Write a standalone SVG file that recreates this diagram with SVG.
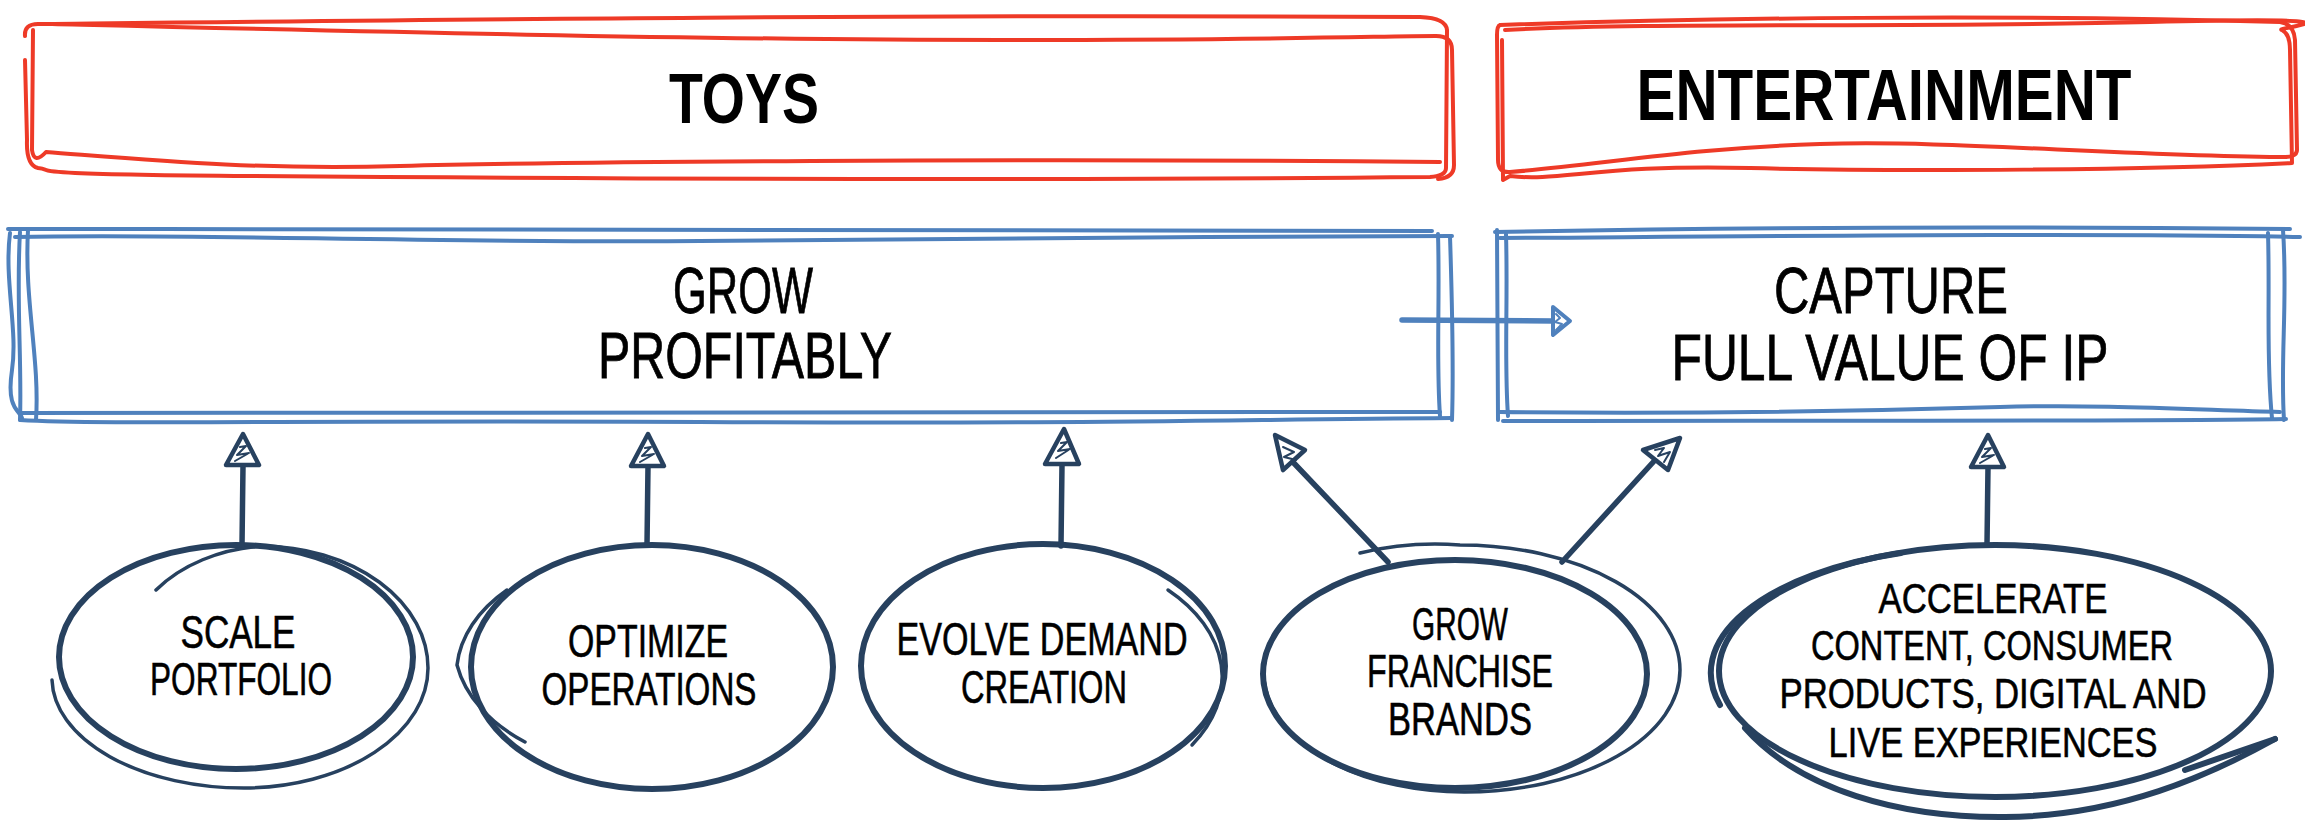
<svg xmlns="http://www.w3.org/2000/svg" width="2305" height="821" viewBox="0 0 2305 821">
  <style>
    .red { fill: none; stroke: #EE3A27; stroke-width: 4; stroke-linecap: round; stroke-linejoin: round; }
    .blue { fill: none; stroke: #4F81BD; stroke-width: 4; stroke-linecap: round; stroke-linejoin: round; }
    .ring { fill: none; stroke: #27415F; stroke-width: 6; stroke-linecap: round; }
    .ring-thin { fill: none; stroke: #27415F; stroke-width: 3.5; stroke-linecap: round; }
    .stem { fill: none; stroke: #27415F; stroke-width: 5.5; stroke-linecap: round; }
    .head { fill: #fff; stroke: #27415F; stroke-width: 4.5; stroke-linejoin: round; }
    .hatch { fill: none; stroke: #27415F; stroke-width: 2; stroke-linecap: round; stroke-linejoin: round; }
    .bstem { fill: none; stroke: #4F81BD; stroke-width: 5.5; stroke-linecap: round; }
    .bhead { fill: #fff; stroke: #4F81BD; stroke-width: 4; stroke-linejoin: round; }
    .bhatch { fill: none; stroke: #4F81BD; stroke-width: 2; stroke-linecap: round; stroke-linejoin: round; }
    .title { font-family: "Liberation Sans", Arial, sans-serif; font-weight: bold; fill: #000; text-anchor: middle; }
    .goal { font-family: "Liberation Sans", Arial, sans-serif; fill: #000; stroke: #000; stroke-width: 0.8; text-anchor: middle; font-size: 64px; }
    .lbl { font-family: "Liberation Sans", Arial, sans-serif; fill: #000; stroke: #000; stroke-width: 0.6; text-anchor: middle; font-size: 46px; }
    .lbl-sm { font-size: 42px; }
  </style>
  <rect width="2305" height="821" fill="#fff"/>

  <!-- Segment headers -->
  <g id="toys">
    <path class="red" d="M 25 36 Q 24 24 38 24 C 400 20, 900 14, 1420 17 Q 1446 18 1447 30 L 1446 168 Q 1446 176 1430 177 C 1000 181, 500 178, 250 176 S 60 170, 38 168 Q 26 165 27 140 L 25 60"/>
    <path class="red" d="M 52 24 C 300 30, 700 40, 1000 40 S 1380 36, 1436 36 Q 1452 36 1452 50 L 1454 165 Q 1454 178 1438 179"/>
    <path class="red" d="M 33 30 L 32 150 Q 34 165 46 152 C 150 160, 250 170, 400 166 S 1000 158, 1440 162"/>
    <text class="title" x="744" y="123" font-size="70" textLength="150" lengthAdjust="spacingAndGlyphs">TOYS</text>
  </g>
  <g id="entertainment">
    <path class="red" d="M 1500 25 C 1700 18, 2000 14, 2280 22 Q 2294 24 2295 40 L 2297 150 Q 2297 158 2280 157 C 2100 155, 1950 140, 1820 144 S 1600 165, 1510 172 Q 1498 173 1498 160 L 1497 35 Q 1497 26 1500 25"/>
    <path class="red" d="M 1505 30 C 1650 22, 1900 28, 2150 22 S 2270 28, 2282 30 Q 2290 34 2290 50 L 2292 163 C 2150 170, 1900 172, 1750 168 S 1560 182, 1510 176 L 1503 180 L 1502 40"/>
    <text class="title" x="1884" y="120" font-size="72" textLength="495" lengthAdjust="spacingAndGlyphs">ENTERTAINMENT</text>
  </g>

  <!-- Strategic goals -->
  <g id="grow-profitably">
    <path class="blue" d="M 8 229 C 500 229, 1000 230, 1432 231"/>
    <path class="blue" d="M 15 237 C 200 233, 400 243, 700 241 S 1200 236, 1452 236"/>
    <path class="blue" d="M 10 233 C 4 280, 18 330, 12 370 S 20 410, 22 418"/>
    <path class="blue" d="M 20 232 C 16 300, 22 360, 20 420"/>
    <path class="blue" d="M 28 230 C 24 300, 40 360, 36 420"/>
    <path class="blue" d="M 1438 234 C 1440 300, 1436 360, 1440 416"/>
    <path class="blue" d="M 1450 236 C 1452 300, 1454 360, 1452 420"/>
    <path class="blue" d="M 22 413 C 300 411, 800 410, 1440 412"/>
    <path class="blue" d="M 20 420 C 100 425, 300 420, 700 422 S 1200 420, 1452 418"/>
    <text class="goal" x="743" y="313" textLength="140" lengthAdjust="spacingAndGlyphs">GROW</text>
    <text class="goal" x="745" y="378" textLength="294" lengthAdjust="spacingAndGlyphs">PROFITABLY</text>
  </g>
  <g id="capture-value">
    <path class="blue" d="M 1495 232 C 1700 228, 2000 226, 2290 229"/>
    <path class="blue" d="M 1500 238 C 1800 236, 2100 233, 2300 237"/>
    <path class="blue" d="M 1497 230 L 1498 420"/>
    <path class="blue" d="M 1506 234 C 1508 300, 1504 360, 1508 416"/>
    <path class="blue" d="M 2268 233 C 2270 300, 2266 360, 2272 418"/>
    <path class="blue" d="M 2283 230 C 2288 300, 2280 360, 2284 420"/>
    <path class="blue" d="M 1500 412 C 1700 414, 1900 410, 2000 407 S 2200 410, 2280 412"/>
    <path class="blue" d="M 1503 421 C 1800 420, 2100 422, 2286 419"/>
    <text class="goal" x="1891" y="313" textLength="234" lengthAdjust="spacingAndGlyphs">CAPTURE</text>
    <text class="goal" x="1890" y="380" textLength="437" lengthAdjust="spacingAndGlyphs">FULL VALUE OF IP</text>
  </g>

  <!-- Initiatives -->
  <g id="scale-portfolio">
    <ellipse class="ring" cx="236" cy="657" rx="177" ry="112"/>
    <path class="ring-thin" d="M 156 590 A 150 110 0 0 1 262 546 A 168 122 0 0 1 428 668 A 185 120 0 0 1 245 788 A 192 110 0 0 1 52 680"/>
    <text class="lbl" x="238" y="648" textLength="115" lengthAdjust="spacingAndGlyphs">SCALE</text>
    <text class="lbl" x="241" y="695" textLength="182" lengthAdjust="spacingAndGlyphs">PORTFOLIO</text>
  </g>
  <g id="optimize-operations">
    <ellipse class="ring" cx="652" cy="667" rx="181" ry="122"/>
    <path class="ring-thin" d="M 507 590 A 175 120 0 0 0 457 665 A 180 125 0 0 0 525 742"/>
    <text class="lbl" x="648" y="657" textLength="160" lengthAdjust="spacingAndGlyphs">OPTIMIZE</text>
    <text class="lbl" x="649" y="705" textLength="215" lengthAdjust="spacingAndGlyphs">OPERATIONS</text>
  </g>
  <g id="evolve-demand">
    <ellipse class="ring" cx="1043" cy="666" rx="182" ry="122"/>
    <path class="ring-thin" d="M 1168 590 A 190 125 0 0 1 1192 745"/>
    <text class="lbl" x="1042" y="655" textLength="291" lengthAdjust="spacingAndGlyphs">EVOLVE DEMAND</text>
    <text class="lbl" x="1044" y="703" textLength="166" lengthAdjust="spacingAndGlyphs">CREATION</text>
  </g>
  <g id="franchise-brands">
    <ellipse class="ring" cx="1455" cy="674" rx="192" ry="114"/>
    <path class="ring-thin" d="M 1360 553 A 200 120 0 0 1 1460 545 A 220 125 0 0 1 1680 670 A 215 122 0 0 1 1465 792 A 200 118 0 0 1 1266 690 A 195 115 0 0 1 1272 640"/>
    <text class="lbl" x="1460" y="640" textLength="96" lengthAdjust="spacingAndGlyphs">GROW</text>
    <text class="lbl" x="1460" y="687" textLength="186" lengthAdjust="spacingAndGlyphs">FRANCHISE</text>
    <text class="lbl" x="1460" y="735" textLength="144" lengthAdjust="spacingAndGlyphs">BRANDS</text>
  </g>
  <g id="accelerate">
    <ellipse class="ring" cx="1995" cy="671" rx="276" ry="126"/>
    <path class="ring" stroke-width="9" d="M 1720 705 A 276 126 0 0 1 1901 553"/>
    <path class="ring" stroke-width="4.5" d="M 1745 728 C 1800 790, 1900 818, 2005 817 C 2120 816, 2210 775, 2275 739"/>
    <path class="ring" stroke-width="7" d="M 2185 770 L 2275 739"/>
    <text class="lbl lbl-sm" x="1993" y="613" textLength="229" lengthAdjust="spacingAndGlyphs">ACCELERATE</text>
    <text class="lbl lbl-sm" x="1992" y="660" textLength="362" lengthAdjust="spacingAndGlyphs">CONTENT, CONSUMER</text>
    <text class="lbl lbl-sm" x="1993" y="708" textLength="427" lengthAdjust="spacingAndGlyphs">PRODUCTS, DIGITAL AND</text>
    <text class="lbl lbl-sm" x="1993" y="757" textLength="329" lengthAdjust="spacingAndGlyphs">LIVE EXPERIENCES</text>
  </g>

  <!-- Connectors -->
  <g id="connectors">
    <!-- goal to goal -->
    <path class="bstem" d="M 1402 320 L 1553 321"/>
    <path class="bhead" d="M 1553 307 L 1570 321 L 1553 335 Z"/>
    <path class="bhatch" d="M 1556 314 L 1560 318 L 1555 322 L 1562 324 L 1556 330"/>

    <!-- scale portfolio -> grow profitably -->
    <path class="stem" d="M 242 545 L 243 466"/>
    <path class="head" d="M 243 434 L 259 465 L 226 465 Z"/>
    <path class="hatch" d="M 240 447 L 246 446 L 237 455 L 249 453 L 235 461"/>

    <!-- optimize operations -> grow profitably -->
    <path class="stem" d="M 647 545 L 648 466"/>
    <path class="head" d="M 648 434 L 664 466 L 631 466 Z"/>
    <path class="hatch" d="M 645 448 L 651 447 L 642 456 L 654 454 L 640 462"/>

    <!-- evolve demand creation -> grow profitably -->
    <path class="stem" d="M 1061 546 L 1062 465"/>
    <path class="head" d="M 1064 429 L 1079 464 L 1045 464 Z"/>
    <path class="hatch" d="M 1061 443 L 1067 442 L 1058 451 L 1070 449 L 1056 458"/>

    <!-- grow franchise brands -> both goals -->
    <path class="stem" d="M 1388 562 L 1290 459"/>
    <path class="head" d="M 1275 435 L 1305 450 L 1283 470 Z"/>
    <path class="hatch" d="M 1283 447 L 1294 452 L 1284 457 L 1296 460 L 1287 465"/>
    <path class="stem" d="M 1562 562 L 1656 459"/>
    <path class="head" d="M 1680 438 L 1668 470 L 1643 450 Z"/>
    <path class="hatch" d="M 1655 450 L 1664 448 L 1658 456 L 1670 452 L 1664 462"/>

    <!-- accelerate -> capture full value of ip -->
    <path class="stem" d="M 1987 545 L 1988 467"/>
    <path class="head" d="M 1988 435 L 2004 467 L 1971 467 Z"/>
    <path class="hatch" d="M 1985 449 L 1991 448 L 1982 457 L 1994 455 L 1980 463"/>
  </g>
</svg>
